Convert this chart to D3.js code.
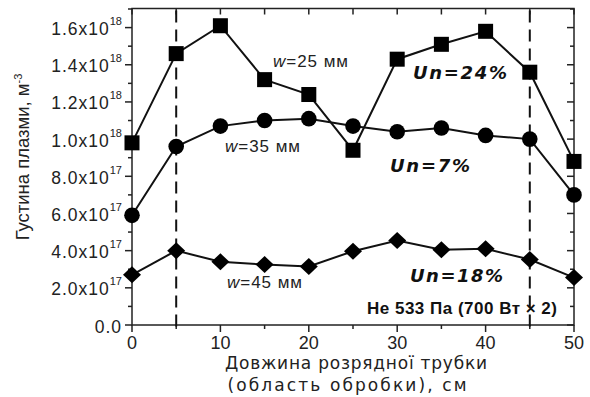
<!DOCTYPE html>
<html>
<head>
<meta charset="utf-8">
<script src="https://cdn.jsdelivr.net/npm/d3@7"></script>
<style>
  body { margin: 0; background: #fff; }
  svg { display: block; }
</style>
</head>
<body>
<div id="chart"></div>
<script>
// dani zchytani z malyunka
var positions = [0, 5, 10, 15, 20, 25, 30, 35, 40, 45, 50];
var w25 = [9.8e17, 1.46e18, 1.61e18, 1.32e18, 1.24e18, 9.4e17, 1.43e18, 1.51e18, 1.58e18, 1.36e18, 8.8e17];
var w35 = [5.9e17, 9.6e17, 1.07e18, 1.10e18, 1.11e18, 1.07e18, 1.04e18, 1.06e18, 1.02e18, 1.0e18, 7.0e17];
var w45 = [2.7e17, 4.0e17, 3.4e17, 3.25e17, 3.15e17, 3.97e17, 4.55e17, 4.05e17, 4.1e17, 3.52e17, 2.55e17];
var dashedAt = [5, 45];
var xTicks = [0, 10, 20, 30, 40, 50];
var yTicks = [0, 2e17, 4e17, 6e17, 8e17, 1e18, 1.2e18, 1.4e18, 1.6e18];
var yTickMant = ["0.0", "2.0x10", "4.0x10", "6.0x10", "8.0x10", "1.0x10", "1.2x10", "1.4x10", "1.6x10"];
var yTickExp = ["", "17", "17", "17", "17", "18", "18", "18", "18"];

var width = 590, height = 397;
var x0 = 132, x1 = 574, yTop = 8.5, yBot = 325;

var svg = d3.select("#chart").append("svg")
  .attr("width", width)
  .attr("height", height);

var x = d3.scaleLinear().domain([0, 50]).range([x0, x1]);
var y = d3.scaleLinear().domain([0, 1.7e18]).range([yBot, 9]);

// osi
var minorX = d3.range(0, 51, 5);
var minorY = d3.range(0, 1.75e18, 1e17);

svg.append("rect")
  .attr("x", x0).attr("y", yTop)
  .attr("width", x1 - x0).attr("height", yBot - yTop)
  .attr("fill", "none").attr("stroke", "#222").attr("stroke-width", 1.5);

var ticks = svg.append("g").attr("stroke", "#222").attr("stroke-width", 1.5);
minorX.forEach(function(v) {
  var big = v % 10 === 0;
  ticks.append("line").attr("x1", x(v)).attr("x2", x(v))
    .attr("y1", yBot).attr("y2", yBot + (big ? 7 : 4));
  ticks.append("line").attr("x1", x(v)).attr("x2", x(v))
    .attr("y1", yTop).attr("y2", yTop + 6);
});
minorY.forEach(function(v, i) {
  var big = i % 2 === 0;
  ticks.append("line").attr("x1", x0 - (big ? 7 : 4)).attr("x2", x0)
    .attr("y1", y(v)).attr("y2", y(v));
  ticks.append("line").attr("x1", x1 - (big ? 7 : 4)).attr("x2", x1)
    .attr("y1", y(v)).attr("y2", y(v));
});

svg.selectAll(".xlab")
  .data(xTicks)
  .enter().append("text")
  .attr("class", "xlab")
  .attr("x", function(d) { return x(d); })
  .attr("y", 349)
  .attr("text-anchor", "middle")
  .style("font-family", "Liberation Sans, Arial, sans-serif")
  .style("font-size", "18px")
  .attr("fill", "#222")
  .text(function(d) { return d; });

var ylab = svg.selectAll(".ylab")
  .data(yTicks)
  .enter().append("text")
  .attr("class", "ylab")
  .attr("x", 122)
  .attr("y", function(d) { return y(d) + 7.5; })
  .attr("text-anchor", "end")
  .style("font-family", "Liberation Sans, Arial, sans-serif")
  .style("font-size", "17.5px")
  .attr("fill", "#222");
ylab.append("tspan")
  .style("letter-spacing", "1px")
  .text(function(d, i) { return yTickMant[i]; });
ylab.append("tspan")
  .attr("dy", -10)
  .style("font-size", "11px")
  .text(function(d, i) { return yTickExp[i]; });

// tytuly osej
var xt = svg.append("g")
  .style("font-family", "DejaVu Sans, Verdana, sans-serif")
  .style("font-size", "17px")
  .attr("fill", "#222")
  .attr("text-anchor", "middle");
xt.append("text").attr("x", 356).attr("y", 369)
  .attr("textLength", 262).attr("lengthAdjust", "spacing")
  .text("Довжина розрядної трубки");
xt.append("text").attr("x", 347).attr("y", 391)
  .attr("textLength", 239).attr("lengthAdjust", "spacing")
  .text("(область обробки), см");

var yt = svg.append("text")
  .attr("transform", "translate(29,157) rotate(-90)")
  .attr("text-anchor", "middle")
  .style("font-family", "Liberation Sans, Arial, sans-serif")
  .style("font-size", "18.5px")
  .attr("fill", "#222");
yt.append("tspan").text("Густина плазми, м");
yt.append("tspan").attr("dy", -7).style("font-size", "11px").text("-3");

// shtrykhovi liniyi
svg.selectAll(".dash")
  .data(dashedAt)
  .enter().append("line")
  .attr("x1", function(d) { return x(d); })
  .attr("x2", function(d) { return x(d); })
  .attr("y1", yTop + 2).attr("y2", yBot + 8)
  .attr("stroke", "#111").attr("stroke-width", 2)
  .attr("stroke-dasharray", "12,7");

// liniyi
var series = [w25, w35, w45];
var line = d3.line()
  .x(function(d, i) { return x(positions[i]); })
  .y(function(d) { return y(d); });

series.forEach(function(s) {
  svg.append("path")
    .datum(s)
    .attr("d", line)
    .attr("fill", "none")
    .attr("stroke", "#111")
    .attr("stroke-width", 2);
});

// markery
svg.selectAll(".sq")
  .data(w25)
  .enter().append("rect")
  .attr("x", function(d, i) { return x(positions[i]) - 7.5; })
  .attr("y", function(d) { return y(d) - 7.5; })
  .attr("width", 15).attr("height", 15)
  .attr("fill", "#000");

svg.selectAll(".ci")
  .data(w35)
  .enter().append("circle")
  .attr("cx", function(d, i) { return x(positions[i]); })
  .attr("cy", function(d) { return y(d); })
  .attr("r", 7.8)
  .attr("fill", "#000");

svg.selectAll(".di")
  .data(w45)
  .enter().append("path")
  .attr("d", function(d, i) {
    var cx = x(positions[i]), cy = y(d);
    return "M" + (cx - 9) + "," + cy + "L" + cx + "," + (cy - 8.5) +
      "L" + (cx + 9) + "," + cy + "L" + cx + "," + (cy + 8.5) + "Z";
  })
  .attr("fill", "#000");

// pidpysy
function wLabel(px, py, rest) {
  var t = svg.append("text")
    .attr("x", px).attr("y", py)
    .attr("textLength", 75).attr("lengthAdjust", "spacing")
    .style("font-family", "Liberation Sans, Arial, sans-serif")
    .style("font-size", "17px")
    .attr("fill", "#222");
  t.append("tspan").style("font-style", "italic").text("w");
  t.append("tspan").text(rest);
}
wLabel(273, 67, "=25 мм");
wLabel(225, 152, "=35 мм");
wLabel(227, 288, "=45 мм");

function unLabel(px, py, txt, len) {
  svg.append("text")
    .attr("x", px).attr("y", py)
    .attr("textLength", len).attr("lengthAdjust", "spacing")
    .style("font-family", "DejaVu Sans, Verdana, sans-serif")
    .style("font-size", "18px")
    .style("font-weight", "bold")
    .style("font-style", "italic")
    .attr("fill", "#111")
    .text(txt);
}
unLabel(413, 79, "Un=24%", 94);
unLabel(390, 172, "Un=7%", 80);
unLabel(410, 282, "Un=18%", 93);

svg.append("text")
  .attr("x", 367).attr("y", 314)
  .attr("textLength", 190).attr("lengthAdjust", "spacing")
  .style("font-family", "Liberation Sans, Arial, sans-serif")
  .style("font-size", "17px")
  .style("font-weight", "bold")
  .attr("fill", "#111")
  .text("He 533 Па (700 Вт × 2)");
</script>
</body>
</html>
